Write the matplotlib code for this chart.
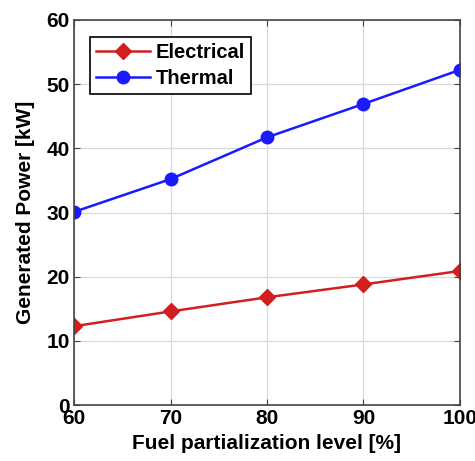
import numpy as np
import matplotlib.pyplot as plt

plt.rcParams['font.family'] = ['Liberation Sans', 'DejaVu Sans']
plt.rcParams['font.weight'] = 'bold'

fuel_level = [60, 70, 80, 90, 100]
electrical = [12.3, 14.6, 16.8, 18.8, 20.9]
thermal = [30.1, 35.2, 41.7, 46.9, 52.2]

fig = plt.figure(figsize=(4.75, 4.61), dpi=100)
ax = fig.add_axes([0.156, 0.121, 0.812, 0.836])

ax.plot(fuel_level, electrical, color='#d11f1f', marker='D', markersize=8, lw=1.8, label='Electrical')
ax.plot(fuel_level, thermal, color='#1a1aff', marker='o', markersize=9, lw=1.8, label='Thermal')

ax.set_xlim(60, 100)
ax.set_ylim(0, 60)
ax.set_xticks([60, 70, 80, 90, 100])
ax.set_yticks([0, 10, 20, 30, 40, 50, 60])
ax.grid(True, color='#d9d9d9', lw=0.9)
ax.set_axisbelow(True)
ax.tick_params(labelsize=15, direction='in', length=4, top=True, right=True, color='#444444', pad=3)
for s in ax.spines.values():
    s.set_color('#444444')
    s.set_linewidth(1.2)

ax.set_xlabel('Fuel partialization level [%]', fontsize=15, fontweight='bold', labelpad=4)
ax.set_ylabel('Generated Power [kW]', fontsize=15, fontweight='bold', labelpad=8)

leg = ax.legend(loc='upper left', fontsize=14.5, fancybox=False, framealpha=1,
                edgecolor='black', bbox_to_anchor=(0.04, 0.955), borderaxespad=0,
                handlelength=2.7, borderpad=0.3, labelspacing=0.35, handletextpad=0.3)
leg.get_frame().set_linewidth(1.2)

fig.savefig('out.png', dpi=100)
